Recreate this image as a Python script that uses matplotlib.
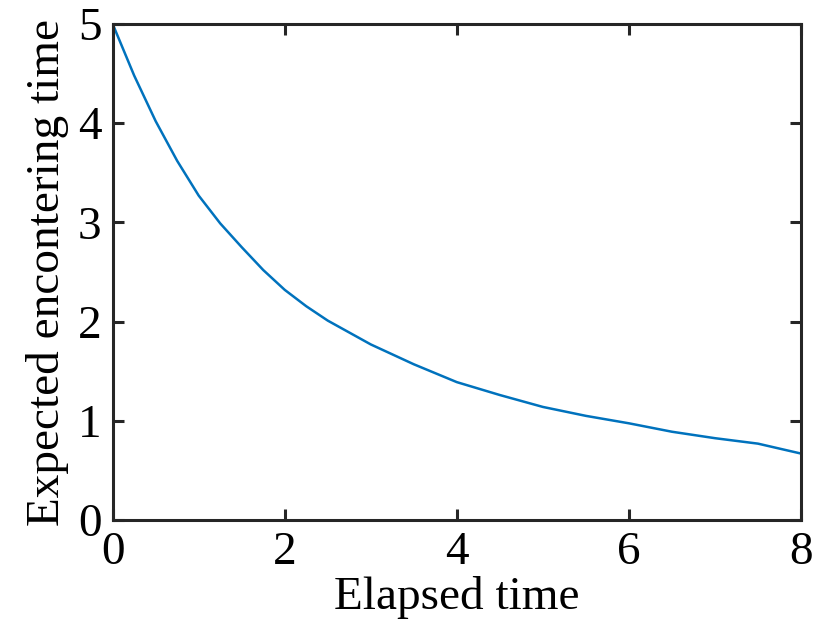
import matplotlib.pyplot as plt

# expected encountering time vs elapsed time
elapsed = [0, 0.25, 0.5, 0.75, 1.0, 1.25, 1.5, 1.75, 2.0, 2.25, 2.5, 3.0, 3.5,
           4.0, 4.5, 5.0, 5.5, 6.0, 6.5, 7.0, 7.5, 8.0]
expected = [5.0, 4.48, 4.02, 3.62, 3.27, 2.99, 2.75, 2.52, 2.32, 2.155, 2.01, 1.77, 1.57,
            1.39, 1.26, 1.14, 1.05, 0.975, 0.89, 0.825, 0.77, 0.67]

x_ticks = [0, 2, 4, 6, 8]
y_ticks = [0, 1, 2, 3, 4, 5]

plt.rcParams['font.family'] = ['Liberation Serif', 'DejaVu Serif']

fig = plt.figure(figsize=(8.13, 6.42), dpi=100)
ax = fig.add_axes([0.1386, 0.19, 0.8466, 0.7726])

ax.plot(elapsed, expected, color='#0072BD', linewidth=1.8)

ax.set_xlim(0, 8)
ax.set_ylim(0, 5)
ax.set_xticks(x_ticks)
ax.set_yticks(y_ticks)

for s in ax.spines.values():
    s.set_linewidth(2.2)
    s.set_color('#262626')

ax.tick_params(direction='in', length=8, width=2.2, color='#262626',
               top=True, right=True, labelsize=34, pad=8)
ax.set_xlabel('Elapsed time', fontsize=34, labelpad=2)
ax.set_ylabel('Expected encontering time', fontsize=34, labelpad=6)

fig.savefig('out.png', dpi=100)
